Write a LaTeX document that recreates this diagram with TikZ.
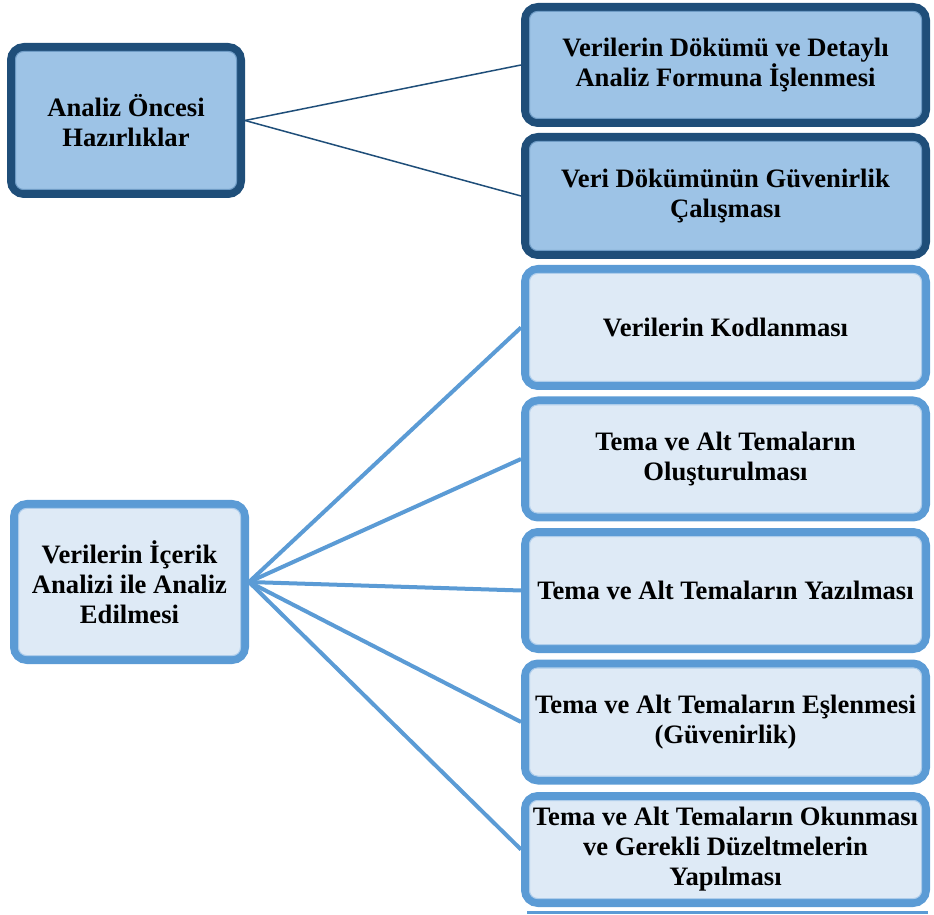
\documentclass[tikz,border=0pt]{standalone}
\usepackage{fontspec}
\setmainfont{Liberation Serif}
\definecolor{darkedge}{HTML}{1F4E79}
\definecolor{darkfill}{HTML}{9DC3E6}
\definecolor{darkinner}{HTML}{6F9CC6}
\definecolor{lightedge}{HTML}{5B9BD5}
\definecolor{lightfill}{HTML}{DEEAF6}
\definecolor{lightinner}{HTML}{AECDEB}
\newcommand\innerline[2]{\draw[#2, line width=1pt, rounded corners=8pt] ([xshift=8.5pt,yshift=-8.5pt]#1.north west) rectangle ([xshift=-8.5pt,yshift=8.5pt]#1.south east);}
\tikzset{
  boxbase/.style={rectangle, rounded corners=13pt, line width=8pt, outer sep=4pt, inner sep=0pt, align=center,
    font=\bfseries\fontsize{26.6}{30}\selectfont},
  darkbox/.style={boxbase, draw=darkedge, fill=darkfill},
  lightbox/.style={boxbase, draw=lightedge, fill=lightfill},
  rightbox/.style={minimum width=401pt},
  darkline/.style={draw=darkedge, line width=1.5pt},
  lightline/.style={draw=lightedge, line width=4pt},
}
\begin{document}
\begin{tikzpicture}[x=1pt,y=1pt]
\useasboundingbox (0,0) rectangle (934,914);
\clip (0,0) rectangle (934,914);
% left boxes
\node[darkbox, minimum width=230pt, minimum height=147pt] (a) at (126,793.5) {Analiz Öncesi\\Hazırlıklar};
\node[lightbox, minimum width=231pt, minimum height=156pt] (c) at (129.5,332) {Verilerin İçerik\\Analizi ile Analiz\\Edilmesi};
% right dark boxes
\node[darkbox, rightbox, minimum height=116pt] (b1) at (725.5,849) {Verilerin Dökümü ve Detaylı\\Analiz Formuna İşlenmesi};
\node[darkbox, rightbox, minimum height=118pt] (b2) at (725.5,718) {Veri Dökümünün Güvenirlik\\Çalışması};
% right light boxes
\node[lightbox, rightbox, minimum height=117pt] (d1) at (725.5,586.5) {Verilerin Kodlanması};
\node[lightbox, rightbox, minimum height=117pt] (d2) at (725.5,455) {Tema ve Alt Temaların\\Oluşturulması};
\node[lightbox, rightbox, minimum height=117pt] (d3) at (725.5,323.5) {Tema ve Alt Temaların Yazılması};
\node[lightbox, rightbox, minimum height=117pt] (d4) at (725.5,192) {Tema ve Alt Temaların Eşlenmesi\\(Güvenirlik)};
\node[lightbox, rightbox, minimum height=107pt] (d5) at (725.5,64.5) {Tema ve Alt Temaların Okunması\\ve Gerekli Düzeltmelerin\\Yapılması};
% inner outlines
\innerline{a}{darkinner}
\innerline{b1}{darkinner}
\innerline{b2}{darkinner}
\innerline{c}{lightinner}
\innerline{d1}{lightinner}
\innerline{d2}{lightinner}
\innerline{d3}{lightinner}
\innerline{d4}{lightinner}
\innerline{d5}{lightinner}
% bottom trace under last box
\coordinate (bl) at (527,2);
\coordinate (br) at (928,2);
\draw[lightedge, line width=3pt] (bl) -- (br);
% connectors
\draw[darkline] (a.east) -- (b1.west);
\draw[darkline] (a.east) -- (b2.west);
\foreach \n in {d1,d2,d3,d4,d5} {\draw[lightline] (c.east) -- (\n.west);}
\end{tikzpicture}
\end{document}
